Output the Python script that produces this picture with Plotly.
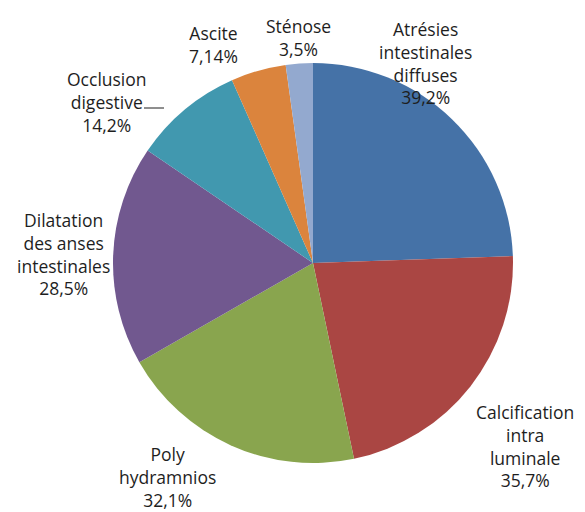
import plotly.graph_objects as go

labels = ["Atrésies intestinales diffuses", "Calcification intra luminale", "Poly hydramnios",
          "Dilatation des anses intestinales", "Occlusion digestive", "Ascite", "Sténose"]
label_text = ["Atrésies<br>intestinales<br>diffuses", "Calcification<br>intra<br>luminale",
              "Poly<br>hydramnios", "Dilatation<br>des anses<br>intestinales",
              "Occlusion<br>digestive", "Ascite", "Sténose"]
values = [39.2, 35.7, 32.1, 28.5, 14.2, 7.14, 3.5]
value_text = ["39,2%", "35,7%", "32,1%", "28,5%", "14,2%", "7,14%", "3,5%"]
colors = ["#4572A7", "#AA4643", "#89A54E", "#71588F", "#4198AF", "#DB843D", "#93A9CF"]

OFF = 8  # page body margin
W, H = 585 - OFF, 512 - OFF
# label centre positions in reference pixels (x, y from top)
label_pos = [(425, 63), (525, 446), (167, 477), (63, 254), (107, 102), (213, 45), (298, 37)]


def px(x):
    return (x - OFF) / W


def py(y):
    return 1 - (y - OFF) / H


fig = go.Figure(go.Pie(
    labels=labels, values=values, sort=False, direction="clockwise", rotation=0,
    marker=dict(colors=colors, line=dict(width=0)),
    textinfo="none", hoverinfo="label+value", showlegend=False,
    domain=dict(x=[px(113), px(513)], y=[py(463), py(63)]),
))

for lt, vt, (x, y) in zip(label_text, value_text, label_pos):
    fig.add_annotation(x=px(x), y=py(y), xref="paper", yref="paper",
                       text=lt + "<br>" + vt, showarrow=False, align="center",
                       xanchor="center", yanchor="middle",
                       font=dict(family="Open Sans, Liberation Sans", size=17.5, color="#1e1e1e"))

# leader line for Occlusion digestive
fig.add_shape(type="line", xref="paper", yref="paper",
              x0=px(144), x1=px(164), y0=py(108), y1=py(108),
              line=dict(color="#1e1e1e", width=1))

fig.update_layout(width=W, height=H, margin=dict(l=0, r=0, t=0, b=0),
                  paper_bgcolor="white", plot_bgcolor="white")
fig.write_html("out.html")
